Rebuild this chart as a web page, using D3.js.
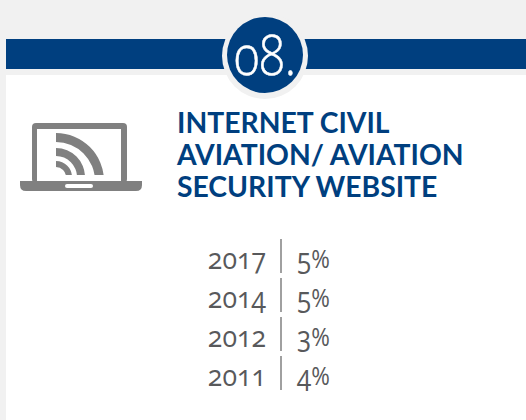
<!DOCTYPE html>
<html>
<head>
<meta charset="utf-8">
<script src="https://cdn.jsdelivr.net/npm/d3@7"></script>
<style>
body { margin: 0; background: #fff; }
svg { display: block; }
</style>
</head>
<body>
<svg width="526" height="420"></svg>
<script>
const years = ['2017', '2014', '2012', '2011'];
const shares = [5, 5, 3, 4];
const sectionNumber = '08.';
const titleLines = ['INTERNET CIVIL', 'AVIATION/ AVIATION', 'SECURITY WEBSITE'];

const navy = '#003f7f';
const pale = '#f1f1f1';
const grey = '#808080';
const textGrey = '#58595b';

const svg = d3.select('svg');

// page background and header band
svg.append('rect').attr('width', 526).attr('height', 420).attr('fill', '#fff');
svg.append('rect').attr('width', 526).attr('height', 75).attr('fill', pale);
svg.append('rect').attr('width', 6).attr('height', 420).attr('fill', pale);
svg.append('rect').attr('x', 6).attr('y', 39).attr('width', 520).attr('height', 30).attr('fill', navy);

svg.append('circle').attr('cx', 265).attr('cy', 56).attr('r', 43).attr('fill', pale);
svg.append('circle').attr('cx', 265).attr('cy', 55).attr('r', 38).attr('fill', navy);
svg.append('text').text(sectionNumber)
  .attr('transform', 'translate(265,75) scale(0.86,1)')
  .attr('text-anchor', 'middle')
  .attr('fill', '#fff')
  .attr('stroke', '#fff')
  .attr('stroke-width', 0.5)
  .style('font-family', '"Open Sans"')
  .style('font-weight', 300)
  .style('font-size', '55px')
  .style('font-feature-settings', '"onum"');

// title
svg.append('g').selectAll('text')
  .data(titleLines)
  .join('text')
  .text(d => d)
  .attr('x', 177)
  .attr('y', (d, i) => 133 + i * 32)
  .attr('fill', navy)
  .style('font-family', 'Lato')
  .style('font-weight', 700)
  .style('font-size', '28.3px');

// laptop icon
const icon = svg.append('g');
icon.append('rect').attr('x', 32).attr('y', 123).attr('width', 95).attr('height', 60).attr('rx', 4).attr('fill', grey);
icon.append('rect').attr('x', 37).attr('y', 129).attr('width', 84).attr('height', 52).attr('fill', '#fff');
icon.append('path')
  .attr('d', 'M20,181H142V185Q142,191 136,191H26Q20,191 20,185Z')
  .attr('fill', grey);
icon.append('rect').attr('x', 65).attr('y', 184).attr('width', 28).attr('height', 4).attr('rx', 2).attr('fill', '#fff');

svg.append('clipPath').attr('id', 'screen')
  .append('rect').attr('x', 37).attr('y', 129).attr('width', 84).attr('height', 46);
const arc = d3.arc().startAngle(0).endAngle(Math.PI / 2);
icon.append('g').attr('clip-path', 'url(#screen)')
  .selectAll('path')
  .data([[39, 48], [21, 29], [10, 16]])
  .join('path')
  .attr('transform', (d, i) => `translate(56,${i ? 177 : 181})`)
  .attr('d', d => arc({innerRadius: d[0], outerRadius: d[1]}))
  .attr('fill', grey);

// year / share rows
const y = d3.scaleBand().domain(years).range([237, 393]);

const rows = svg.append('g').selectAll('g')
  .data(years)
  .join('g')
  .attr('transform', d => `translate(0,${y(d)})`);

rows.append('line')
  .attr('x1', 281).attr('x2', 281)
  .attr('y1', 2).attr('y2', y.bandwidth() - 3)
  .attr('stroke', grey)
  .attr('stroke-width', 1.5);

rows.append('text')
  .text(d => d)
  .attr('transform', 'translate(266,32) scale(0.92,1)')
  .attr('text-anchor', 'end')
  .attr('fill', textGrey)
  .style('font-family', '"Open Sans"')
  .style('font-size', '29px')
  .style('font-feature-settings', '"onum"');

const shareText = rows.append('text')
  .attr('transform', 'translate(297,32) scale(0.9,1)')
  .attr('fill', textGrey)
  .style('font-family', '"Open Sans"')
  .style('font-size', '29px')
  .style('font-feature-settings', '"onum"');
shareText.append('tspan').text((d, i) => shares[i]);
shareText.append('tspan').text('%').attr('dy', -1).style('font-size', '25px');
</script>
</body>
</html>
